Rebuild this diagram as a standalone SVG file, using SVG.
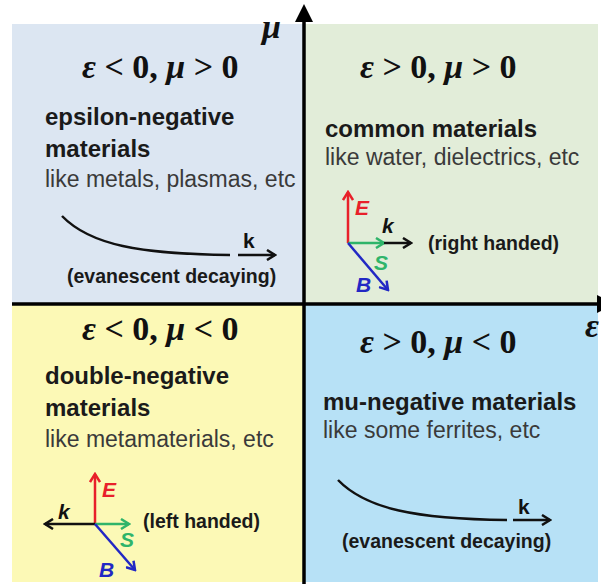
<svg xmlns="http://www.w3.org/2000/svg" width="601" height="585" viewBox="0 0 601 585">
<style>
.title{font-family:"Liberation Serif",serif;font-weight:bold;font-size:34px;fill:#111}
.it{font-style:italic}
.hd{font-family:"Liberation Sans",Arial,sans-serif;font-weight:bold;font-size:24px;fill:#1a1a1a}
.sub{font-family:"Liberation Sans",Arial,sans-serif;font-size:23px;fill:#3a3a3a}
.note{font-family:"Liberation Sans",Arial,sans-serif;font-weight:bold;font-size:19.5px;fill:#1a1a1a}
.kb{font-family:"Liberation Sans",Arial,sans-serif;font-weight:bold;font-size:21px;fill:#111}
.vl{font-family:"Liberation Sans",Arial,sans-serif;font-weight:bold;font-style:italic;font-size:21px}
.curve{fill:none;stroke:#111;stroke-width:2.5}
.vk{stroke:#111;stroke-width:2.5;fill:none}
.ve{stroke:#e8202a;stroke-width:2.5;fill:none}
.vs{stroke:#2fb46a;stroke-width:2.5;fill:none}
.vb{stroke:#2228c4;stroke-width:2.5;fill:none}
.axis{stroke:#000;stroke-width:3.5;fill:none}
</style>
<defs>
<marker id="ak" viewBox="0 0 12 12" refX="10" refY="6" markerWidth="12" markerHeight="12" markerUnits="userSpaceOnUse" orient="auto"><path d="M2,1 L10,6 L2,11" fill="none" stroke="#111" stroke-width="2.5"/></marker>
<marker id="ae" viewBox="0 0 12 12" refX="10" refY="6" markerWidth="12" markerHeight="12" markerUnits="userSpaceOnUse" orient="auto"><path d="M2,1 L10,6 L2,11" fill="none" stroke="#e8202a" stroke-width="2.5"/></marker>
<marker id="as" viewBox="0 0 12 12" refX="10" refY="6" markerWidth="12" markerHeight="12" markerUnits="userSpaceOnUse" orient="auto"><path d="M2,1 L10,6 L2,11" fill="none" stroke="#2fb46a" stroke-width="2.5"/></marker>
<marker id="ab" viewBox="0 0 12 12" refX="10" refY="6" markerWidth="12" markerHeight="12" markerUnits="userSpaceOnUse" orient="auto"><path d="M2,1 L10,6 L2,11" fill="none" stroke="#2228c4" stroke-width="2.5"/></marker>
</defs>
<rect width="601" height="585" fill="#ffffff"/>

<g id="q-enm">
<rect x="12" y="24" width="292" height="280" fill="#dce6f2"/>
<text class="title" x="82" y="78"><tspan class="it">ε</tspan> &lt; 0, <tspan class="it">μ</tspan> &gt; 0</text>
<text class="hd" x="45" y="125">epsilon-negative</text>
<text class="hd" x="45" y="157">materials</text>
<text class="sub" x="45" y="187">like metals, plasmas, etc</text>
<path class="curve" d="M62,216 C90,245 140,254 230,255"/>
<line class="vk" x1="238" y1="255" x2="275" y2="255" marker-end="url(#ak)"/>
<text class="kb" x="243" y="248">k</text>
<text class="note" x="67" y="283">(evanescent decaying)</text>
</g>

<g id="q-common">
<rect x="304" y="24" width="294" height="280" fill="#e2edd9"/>
<text class="title" x="360" y="78"><tspan class="it">ε</tspan> &gt; 0, <tspan class="it">μ</tspan> &gt; 0</text>
<text class="hd" x="325" y="137">common materials</text>
<text class="sub" x="325" y="165">like water, dielectrics, etc</text>
<line class="ve" x1="348" y1="243" x2="348" y2="192" marker-end="url(#ae)"/>
<line class="vs" x1="348" y1="243" x2="384" y2="243" marker-end="url(#as)"/>
<line class="vk" x1="384" y1="243" x2="411" y2="243" marker-end="url(#ak)"/>
<line class="vb" x1="348" y1="243" x2="388" y2="290" marker-end="url(#ab)"/>
<text class="vl" x="355" y="215" fill="#e8202a">E</text>
<text class="vl" x="382" y="233" fill="#111">k</text>
<text class="vl" x="374" y="270" fill="#2fb46a" font-size="19">S</text>
<text class="vl" x="356" y="292" fill="#2228c4">B</text>
<text class="note" x="428" y="250">(right handed)</text>
</g>

<g id="q-dng">
<rect x="12" y="304" width="292" height="278" fill="#fcf9b6"/>
<text class="title" x="82" y="340"><tspan class="it">ε</tspan> &lt; 0, <tspan class="it">μ</tspan> &lt; 0</text>
<text class="hd" x="45" y="384">double-negative</text>
<text class="hd" x="45" y="416">materials</text>
<text class="sub" x="45" y="447">like metamaterials, etc</text>
<line class="ve" x1="95" y1="524" x2="95" y2="474" marker-end="url(#ae)"/>
<line class="vk" x1="95" y1="524" x2="45" y2="524" marker-end="url(#ak)"/>
<line class="vs" x1="95" y1="524" x2="129" y2="524" marker-end="url(#as)"/>
<line class="vb" x1="95" y1="524" x2="135" y2="570" marker-end="url(#ab)"/>
<text class="vl" x="102" y="497" fill="#e8202a">E</text>
<text class="vl" x="58" y="519" fill="#111">k</text>
<text class="vl" x="120" y="547" fill="#2fb46a" font-size="19">S</text>
<text class="vl" x="99" y="577" fill="#2228c4">B</text>
<text class="note" x="143" y="528">(left handed)</text>
</g>

<g id="q-mng">
<rect x="304" y="304" width="294" height="278" fill="#b7e1f6"/>
<text class="title" x="360" y="353"><tspan class="it">ε</tspan> &gt; 0, <tspan class="it">μ</tspan> &lt; 0</text>
<text class="hd" x="323" y="410">mu-negative materials</text>
<text class="sub" x="323" y="438">like some ferrites, etc</text>
<path class="curve" d="M338,480 C366,509 416,519 507,520"/>
<line class="vk" x1="513" y1="520" x2="550" y2="520" marker-end="url(#ak)"/>
<text class="kb" x="518" y="514">k</text>
<text class="note" x="342" y="548">(evanescent decaying)</text>
</g>

<g id="axes">
<line class="axis" x1="304" y1="584" x2="304" y2="18"/>
<polygon points="304,4 295,22 313,22" fill="#000"/>
<line class="axis" x1="12" y1="304" x2="598" y2="304"/>
<polygon points="597,295 615,304 597,313" fill="#000"/>
<text class="title it" x="262" y="38">μ</text>
<text class="title it" x="585" y="337">ε</text>
</g>
</svg>
